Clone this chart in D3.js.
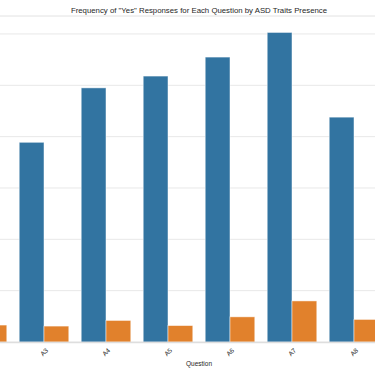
<!DOCTYPE html>
<html lang="en">
<head>
<meta charset="UTF-8">
<title>ASD Yes responses</title>
<script src="https://cdn.jsdelivr.net/npm/d3@7"></script>
<style>
  body { margin: 0; background: #fff; }
  text { font-family: "Liberation Sans", Arial, sans-serif; fill: #262626; }
</style>
</head>
<body>
<div id="main_container"></div>
<script>
    var svgWidth = 375;
    var svgHeight = 375;

    // questions A1..A10, only A2..A8 show in this crop (null = not visible)
    var questions = ["A1", "A2", "A3", "A4", "A5", "A6", "A7", "A8", "A9", "A10"];
    var yesWithTraits = [null, null, 389, 495, 518, 555, 603, 438, null, null];
    var yesNoTraits = [null, 33, 31, 42, 32, 49, 80, 44, null, null];
    var yTicks = [0, 100, 200, 300, 400, 500, 600];

    var colors = ["#3274a1", "#e1812c"];

    // the plot area is wider than the window, only the middle part is seen
    var plotLeft = -111, plotRight = 509, plotTop = 16, plotBottom = 342;

    var svg = d3.select("#main_container").append("svg")
            .attr("width", svgWidth)
            .attr("height", svgHeight);

    var x = d3.scaleBand().domain(questions).range([plotLeft, plotRight]).padding(0);
    var y = d3.scaleLinear().domain([0, 635]).range([plotBottom, plotTop]);

    // grid
    svg.append("g").selectAll("line").data(yTicks).enter().append("line")
        .attr("x1", plotLeft).attr("x2", plotRight)
        .attr("y1", function(d){ return y(d); })
        .attr("y2", function(d){ return y(d); })
        .attr("stroke", "#e8e8e8")
        .attr("stroke-width", 1);

    // top spine
    svg.append("line")
        .attr("x1", plotLeft).attr("x2", plotRight)
        .attr("y1", plotTop).attr("y2", plotTop)
        .attr("stroke", "#e2e2e2").attr("stroke-width", 1);

    var barW = x.step() * 0.4;
    var series = [yesWithTraits, yesNoTraits];

    series.forEach(function(vals, s) {
        var pts = questions.map(function(q, i){ return {q: q, v: vals[i]}; })
                           .filter(function(d){ return d.v != null; });
        svg.append("g").selectAll("rect").data(pts).enter().append("rect")
            .attr("x", function(d){ return x(d.q) + x.step() / 2 - barW + s * barW; })
            .attr("width", barW)
            .attr("y", function(d){ return y(d.v); })
            .attr("height", function(d){ return y(0) - y(d.v); })
            .attr("fill", colors[s])
            .attr("stroke", "#ffffff")
            .attr("stroke-opacity", 0.6)
            .attr("stroke-width", 0.8);
    });

    // bottom spine
    svg.append("line")
        .attr("x1", plotLeft).attr("x2", plotRight)
        .attr("y1", plotBottom + 0.5).attr("y2", plotBottom + 0.5)
        .attr("stroke", "#dedede").attr("stroke-width", 1.5);

    // x tick labels, rotated; the ones outside the window are not drawn
    var shownTicks = questions.filter(function(q){
        var cx = x(q) + x.step() / 2;
        return cx > 10 && cx < svgWidth - 10;
    });
    svg.append("g").selectAll("text").data(shownTicks).enter().append("text")
        .attr("transform", function(d){
            return "translate(" + (x(d) + x.step() / 2) + "," + 352 + ") rotate(-45)";
        })
        .attr("text-anchor", "middle")
        .attr("dominant-baseline", "central")
        .style("font-size", "6.5px")
        .text(function(d){ return d; });

    svg.append("text")
        .attr("x", (plotLeft + plotRight) / 2)
        .attr("y", 366)
        .attr("text-anchor", "middle")
        .style("font-size", "6.5px")
        .text("Question");

    svg.append("text")
        .attr("x", (plotLeft + plotRight) / 2)
        .attr("y", 13)
        .attr("text-anchor", "middle")
        .style("font-size", "7.8px")
        .text('Frequency of "Yes" Responses for Each Question by ASD Traits Presence');
</script>
</body>
</html>
